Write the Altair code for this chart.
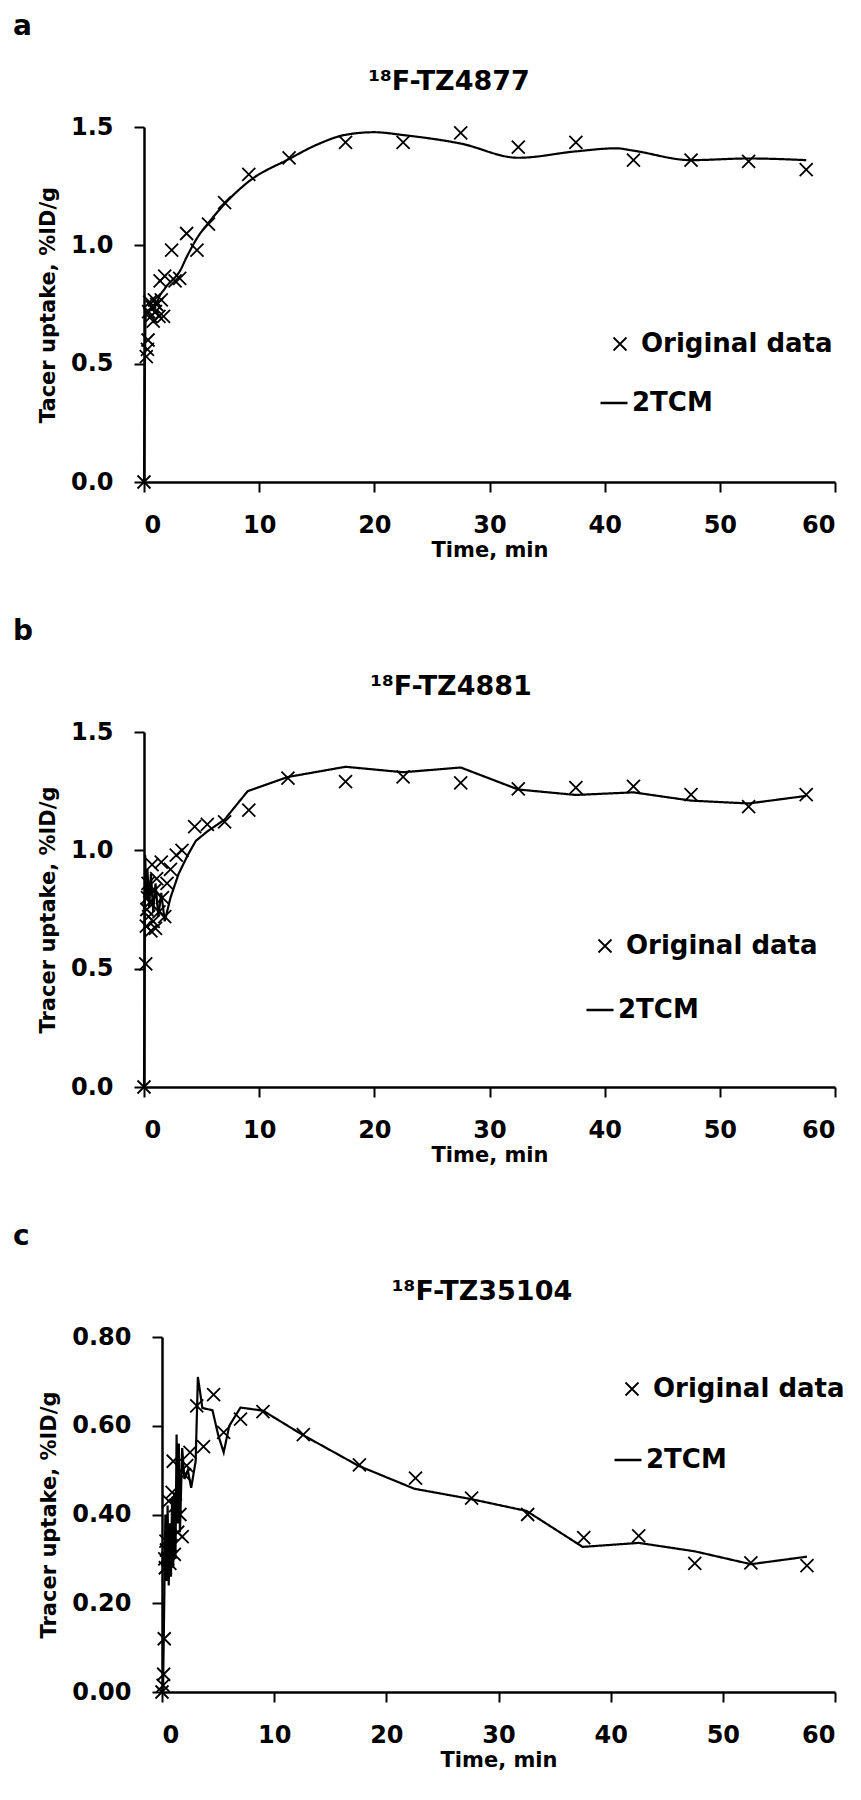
import altair as alt
import pandas as pd

# ---------------- text ----------------
letters = ["a", "b", "c"]
tracer_names = ["¹⁸F-TZ4877", "¹⁸F-TZ4881", "¹⁸F-TZ35104"]
y_titles = ["Tacer uptake, %ID/g", "Tracer uptake, %ID/g", "Tracer uptake, %ID/g"]
x_title = "Time, min"
legend_labels = ["Original data", "2TCM"]

# ---------------- axes ----------------
x_ticks = [0, 10, 20, 30, 40, 50, 60]
y_max = [1.5, 1.5, 0.8]
y_ticks = [[0.0, 0.5, 1.0, 1.5], [0.0, 0.5, 1.0, 1.5], [0.0, 0.2, 0.4, 0.6, 0.8]]
y_formats = [".1f", ".1f", ".2f"]

# ---------------- panel a : 18F-TZ4877 ----------------
a_obs_t = [0, 0.2, 0.3, 0.35, 0.4, 0.5, 0.6, 0.7, 0.8, 0.9, 1.0, 1.1, 1.3, 1.4, 1.5,
           1.7, 1.8, 2.4, 2.7, 3.1, 3.7, 4.6, 5.6, 7.0, 9.1, 12.6, 17.5, 22.5, 27.5,
           32.5, 37.5, 42.5, 47.5, 52.5, 57.5]
a_obs_v = [0, 0.53, 0.56, 0.60, 0.72, 0.76, 0.70, 0.74, 0.68, 0.77, 0.72, 0.75, 0.70, 0.85, 0.77,
           0.70, 0.87, 0.98, 0.85, 0.86, 1.05, 0.98, 1.09, 1.18, 1.30, 1.37, 1.435, 1.435, 1.475,
           1.415, 1.435, 1.36, 1.36, 1.355, 1.32]
a_fit_t = [0, 0.15, 0.3, 0.5, 0.7, 0.9, 1.1, 1.4, 1.7, 2.0, 2.4, 3.1, 3.7, 4.6, 5.6,
           7.0, 9.1, 12.6, 15.0, 17.5, 20.0, 22.5, 27.5, 32.5, 37.5, 41.0, 42.5, 47.5, 52.5, 57.5]
a_fit_v = [0, 0.70, 0.72, 0.73, 0.74, 0.75, 0.76, 0.79, 0.81, 0.83, 0.85, 0.89, 0.95, 1.03, 1.095,
           1.175, 1.27, 1.365, 1.425, 1.467, 1.478, 1.466, 1.43, 1.37, 1.397, 1.41, 1.40, 1.36, 1.367, 1.36]

# ---------------- panel b : 18F-TZ4881 ----------------
b_obs_t = [0, 0.15, 0.2, 0.25, 0.3, 0.35, 0.4, 0.5, 0.6, 0.7, 0.8, 0.9, 1.0, 1.1, 1.3,
           1.5, 1.6, 1.8, 2.0, 2.3, 2.8, 3.3, 4.4, 5.5, 7.0, 9.1, 12.5, 17.5, 22.5, 27.5,
           32.5, 37.5, 42.5, 47.5, 52.5, 57.5]
b_obs_v = [0, 0.52, 0.68, 0.75, 0.80, 0.86, 0.72, 0.78, 0.66, 0.94, 0.70, 0.83, 0.67, 0.88, 0.74,
           0.95, 0.80, 0.72, 0.86, 0.92, 0.98, 1.00, 1.10, 1.11, 1.12, 1.17, 1.305, 1.29, 1.31, 1.285,
           1.26, 1.265, 1.27, 1.235, 1.185, 1.235]
b_fit_t = [0, 0.1, 0.2, 0.3, 0.45, 0.6, 0.8, 1.0, 1.25, 1.5, 1.8, 2.3, 3.0, 3.8, 4.5,
           5.5, 7.0, 9.0, 12.5, 17.5, 22.5, 27.5, 32.5, 37.5, 42.5, 47.5, 52.5, 57.5]
b_fit_v = [0, 0.98, 0.80, 0.92, 0.76, 0.90, 0.74, 0.86, 0.72, 0.82, 0.70, 0.80, 0.90, 0.98, 1.04,
           1.08, 1.13, 1.25, 1.31, 1.353, 1.33, 1.35, 1.257, 1.234, 1.245, 1.21, 1.198, 1.23]

# ---------------- panel c : 18F-TZ35104 ----------------
c_obs_t = [0, 0.1, 0.15, 0.2, 0.25, 0.3, 0.35, 0.4, 0.5, 0.6, 0.7, 0.8, 0.9, 1.0, 1.1,
           1.2, 1.4, 1.6, 1.8, 2.0, 2.2, 2.5, 3.1, 3.7, 4.6, 5.5, 7.0, 9.0, 12.6, 17.6,
           22.6, 27.6, 32.6, 37.6, 42.5, 47.5, 52.5, 57.5]
c_obs_v = [0, 0.015, 0.04, 0.12, 0.30, 0.28, 0.34, 0.32, 0.30, 0.43, 0.29, 0.33, 0.45, 0.52, 0.31,
           0.42, 0.36, 0.40, 0.35, 0.49, 0.51, 0.54, 0.645, 0.553, 0.67, 0.585, 0.615, 0.632, 0.58, 0.512,
           0.482, 0.437, 0.40, 0.348, 0.352, 0.29, 0.291, 0.285]
c_fit_t = [0, 0.1, 0.2, 0.3, 0.4, 0.5, 0.6, 0.7, 0.8, 0.9, 1.0, 1.1, 1.2, 1.3, 1.4,
           1.5, 1.6, 1.8, 2.0, 2.3, 2.6, 3.0, 3.2, 3.6, 4.5, 5.0, 5.5, 6.0, 7.0, 9.0,
           12.5, 17.5, 22.5, 27.5, 32.5, 37.5, 42.5, 47.5, 52.5, 57.5]
c_fit_v = [0, 0.02, 0.20, 0.40, 0.25, 0.42, 0.24, 0.38, 0.26, 0.44, 0.28, 0.45, 0.30, 0.58, 0.38,
           0.56, 0.36, 0.55, 0.48, 0.50, 0.46, 0.52, 0.71, 0.64, 0.635, 0.58, 0.54, 0.60, 0.641, 0.634,
           0.58, 0.51, 0.458, 0.435, 0.408, 0.327, 0.336, 0.317, 0.288, 0.305]

obs_t = [a_obs_t, b_obs_t, c_obs_t]
obs_v = [a_obs_v, b_obs_v, c_obs_v]
fit_t = [a_fit_t, b_fit_t, c_fit_t]
fit_v = [a_fit_v, b_fit_v, c_fit_v]
fit_interp = ["monotone", "linear", "linear"]

# ---------------- layout (pixels) ----------------
FONT = "DejaVu Sans"
XPATH = "M-1,-1L1,1M-1,1L1,-1"
PANEL_W = 691
PANEL_H = 355
plot_inset = [0, 0, 18]            # left inset of the data area (panel c has wider y labels)
LETTER_X = -131
title_x = [305, 307, 338]
pts_leg = [(463, 204), (448, 201), (475, 39)]
line_leg = [(455, 261), (441, 263), (469, 108)]
LEG_FS = 26


def panel(i):
    obs = pd.DataFrame({"t": obs_t[i], "v": obs_v[i], "series": legend_labels[0]})
    fit = pd.DataFrame({"t": fit_t[i], "v": fit_v[i], "series": legend_labels[1]})
    xenc = alt.X("t:Q", scale=alt.Scale(domain=[0, 60], nice=False,
                                        range=[plot_inset[i], PANEL_W]),
                 axis=alt.Axis(values=x_ticks, title=x_title))
    yenc = alt.Y("v:Q", scale=alt.Scale(domain=[0, y_max[i]], nice=False),
                 axis=alt.Axis(values=y_ticks[i], format=y_formats[i], title=y_titles[i],
                               offset=-plot_inset[i]))
    line = alt.Chart(fit).mark_line(color="black", strokeWidth=2.2,
                                    interpolate=fit_interp[i]).encode(
        x=xenc, y=yenc,
        strokeDash=alt.StrokeDash(
            "series:N", scale=alt.Scale(domain=[legend_labels[1]], range=[[1, 0]]),
            legend=alt.Legend(title=None, orient="none",
                              legendX=line_leg[i][0], legendY=line_leg[i][1],
                              symbolType="stroke", symbolSize=729,
                              symbolStrokeWidth=2.5, symbolStrokeColor="black",
                              labelFont=FONT, labelFontWeight="bold", labelFontSize=LEG_FS,
                              labelColor="black", labelOffset=3, labelLimit=0, padding=0)))
    pts = alt.Chart(obs).mark_point(filled=False, color="black", strokeWidth=1.8,
                                    size=169, opacity=1).encode(
        x=xenc, y=yenc,
        shape=alt.Shape(
            "series:N", scale=alt.Scale(domain=[legend_labels[0]], range=[XPATH]),
            legend=alt.Legend(title=None, orient="none",
                              legendX=pts_leg[i][0], legendY=pts_leg[i][1],
                              symbolSize=169, symbolStrokeWidth=1.8,
                              symbolStrokeColor="black", symbolFillColor="transparent",
                              labelFont=FONT, labelFontWeight="bold", labelFontSize=LEG_FS,
                              labelColor="black", labelOffset=8, labelLimit=0, padding=0)))
    letter = alt.Chart(pd.DataFrame({"letter": [letters[i]]})).mark_text(
        align="left", baseline="alphabetic", font=FONT, fontWeight="bold",
        fontSize=28, color="black").encode(
        text="letter:N", x=alt.value(LETTER_X), y=alt.value(-92))
    title = alt.Chart(pd.DataFrame({"name": [tracer_names[i]]})).mark_text(
        align="center", baseline="alphabetic", font=FONT, fontWeight="bold",
        fontSize=27, color="black").encode(
        text="name:N", x=alt.value(title_x[i]), y=alt.value(-37))
    return alt.layer(line, pts, letter, title).properties(width=PANEL_W, height=PANEL_H)


chart = alt.ConcatChart(
    concat=[panel(0), panel(1), panel(2)], columns=1, spacing=58,
    padding={"left": 5, "top": 5, "right": 5, "bottom": 5}
).resolve_scale(
    shape="independent", strokeDash="independent", x="independent", y="independent"
).resolve_legend(shape="independent", strokeDash="independent").configure_view(
    strokeWidth=0
).configure_axis(
    grid=False, domainColor="black", domainWidth=2.5, tickColor="black", tickWidth=2,
    tickSize=10, labelFont=FONT, labelFontWeight="bold", labelFontSize=24,
    labelColor="black", labelPadding=21, titleFont=FONT, titleFontWeight="bold",
    titleColor="black"
).configure_axisX(titleY=57, titleBaseline="top", titleFontSize=21).configure_axisY(
    titlePadding=12, titleFontSize=21)

chart.save("out.html", embed_options={"renderer": "svg", "actions": False})
